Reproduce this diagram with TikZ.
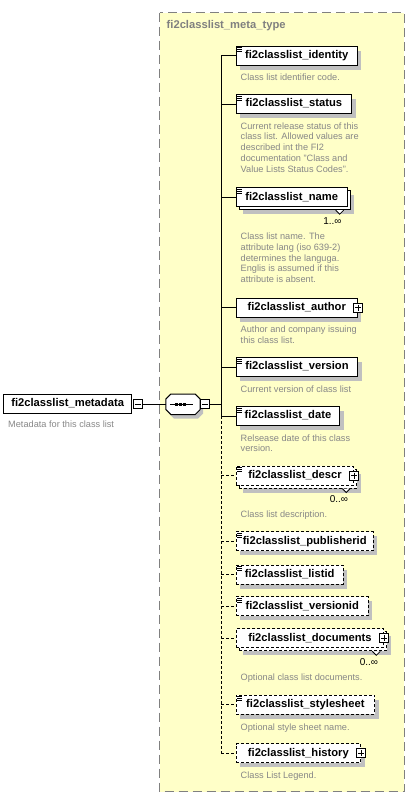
\documentclass[tikz,border=0pt]{standalone}
\usepackage{fontspec}
\setmainfont{Liberation Sans}
\usetikzlibrary{shadows}
\definecolor{yel}{RGB}{255,255,200}
\definecolor{shgray}{RGB}{192,192,192}
\definecolor{dscgray}{RGB}{135,135,135}
\definecolor{bord}{RGB}{128,128,128}
\newcommand\namefont{\fontsize{11.2}{13}\selectfont\bfseries}
\newcommand\titlefont{\fontsize{11.2}{13}\selectfont\bfseries}
\newcommand\descfont{\fontsize{9.2}{10.8}\selectfont}
\newcommand\cardfont{\fontsize{10}{12}\selectfont}
\newcommand\ico[1]{\draw[line width=0.7pt] ([shift={(1.5,2.2)}]#1.north west) -- ++(5,0) ([shift={(1.5,4.2)}]#1.north west) -- ++(5,0) ([shift={(1.5,6.2)}]#1.north west) -- ++(5,0);}
\newcommand\plusbox[2]{\node[pbox] (#2) at (#1.east) {};
  \draw ([xshift=2pt]#2.west) -- ([xshift=-2pt]#2.east) ([yshift=-2pt]#2.north) -- ([yshift=2pt]#2.south);}
\newcommand\notch[1]{\draw[fill=white, line width=0.8pt] ([xshift=-15pt]#1.south east) -- ++(4,4) -- ++(4,-4);}
\begin{document}
\begin{tikzpicture}[x=1pt,y=-1pt,
  elem/.style={draw=black, fill=white, line width=1pt, font=\namefont, minimum height=19pt,
     inner xsep=6pt, inner ysep=0pt, anchor=west, text height=8.4pt, text depth=2.5pt},
  shd/.style={drop shadow={shadow xshift=4pt, shadow yshift=-4.5pt, fill=shgray, draw=none, opacity=1}},
  opt/.style={dash pattern=on 3pt off 2pt},
  dsc/.style={font=\descfont, text=dscgray, align=left, anchor=north west, inner sep=0pt},
  card/.style={font=\cardfont, anchor=east, inner sep=0pt},
  pbox/.style={draw=black, fill=white, line width=1pt, minimum size=9pt, inner sep=0pt},
  conn/.style={line width=1pt}]
\useasboundingbox (0,0) rectangle (412,803);
% group background
\path[fill=yel, draw=bord, line width=1pt, dash pattern=on 9pt off 5pt] (159.5,12.5) rectangle (404,791.5);
\node[anchor=west, font=\titlefont, text=bord, inner sep=0pt] (title) at (166.5,26) {fi2classlist\_meta\_type};

% root element
\node[elem, minimum width=127.7pt, inner xsep=4pt] (meta) at (3.3,403.7) {fi2classlist\_metadata};
\node[pbox] (metam) at (138.3,404.3) {};
\draw ([xshift=2pt]metam.west) -- ([xshift=-2pt]metam.east);
\node[dsc] (metad) at (8,420.6) {Metadata for this class list};

% sequence compositor
\node[minimum width=34pt, minimum height=20pt, inner sep=0pt] (seq) at (183,404.3) {};
\fill[shgray] ([shift={(8,4)}]seq.north west) -- ([shift={(-2,4)}]seq.north east) -- ([shift={(3,9)}]seq.north east) -- ([shift={(3,-1)}]seq.south east) -- ([shift={(-2,4)}]seq.south east) -- ([shift={(8,4)}]seq.south west) -- ([shift={(3,-1)}]seq.south west) -- ([shift={(3,9)}]seq.north west) -- cycle;
\draw[fill=white, line width=1pt] ([shift={(5,0)}]seq.north west) -- ([shift={(-5,0)}]seq.north east) -- ([shift={(0,5)}]seq.north east) -- ([shift={(0,-5)}]seq.south east) -- ([shift={(-5,0)}]seq.south east) -- ([shift={(5,0)}]seq.south west) -- ([shift={(0,-5)}]seq.south west) -- ([shift={(0,5)}]seq.north west) -- cycle;
\draw[line width=1pt] ([xshift=4pt]seq.west) -- ([xshift=-7.3pt]seq.east);
\foreach \dx in {-6.3,-2.3,1.7} \fill ([shift={(\dx-1.5,-1.5)}]seq.center) rectangle ++(3,3);
\node[pbox] (seqm) at (205.3,404.3) {};
\draw ([xshift=2pt]seqm.west) -- ([xshift=-2pt]seqm.east);
\coordinate (sp) at (221,404.3);
\draw[conn] (metam.east) -- (seq.west);
\draw[conn] (seqm.east) -- (sp);

% mandatory elements
\node[elem, shd, minimum width=121pt] (identity) at (235.7,55.5) {fi2classlist\_identity};
\ico{identity}
\node[dsc] (identityd) at (240.5,73.9) {Class list identifier code.};

\node[elem, shd, minimum width=115.3pt] (status) at (235.7,104) {fi2classlist\_status};
\ico{status}
\node[dsc] (statusd) at (240.5,122.3) {Current release status of this\\class list. Allowed values are\\described int the FI2\\documentation "Class and\\Value Lists Status Codes".};

\node[elem, shd, minimum width=111pt] (nameb) at (238.7,200.2) {};
\node[elem, minimum width=111pt] (name) at (235.7,197.2) {fi2classlist\_name};
\ico{name}
\notch{nameb}
\node[card] (namec) at ([shift={(-9,10.7)}]nameb.south east) {1..∞};
\node[dsc] (named) at (240.5,232.6) {Class list name. The\\attribute lang (iso 639-2)\\determines the languga.\\Englis is assumed if this\\attribute is absent.};

\node[elem, shd, minimum width=121pt] (author) at (235.7,307.5) {fi2classlist\_author\hspace{6pt}};
\plusbox{author}{authorp}
\node[dsc] (authord) at (240.5,325.6) {Author and company issuing\\this class list.};

\node[elem, shd, minimum width=121.6pt] (version) at (235.7,367) {fi2classlist\_version};
\ico{version}
\node[dsc] (versiond) at (240.5,385.6) {Current version of class list};

\node[elem, shd, minimum width=103.6pt] (date) at (235.7,416) {fi2classlist\_date};
\ico{date}
\node[dsc] (dated) at (240.5,434.3) {Relsease date of this class\\version.};

% optional elements
\node[elem, opt, shd, minimum width=117.6pt] (descrb) at (238.7,478.5) {};
\node[elem, opt, minimum width=117.6pt] (descr) at (235.7,475.5) {fi2classlist\_descr\hspace{6pt}};
\ico{descr}
\plusbox{descr}{descrp}
\notch{descrb}
\node[card] (descrc) at ([shift={(-9,10.7)}]descrb.south east) {0..∞};
\node[dsc] (descrd) at (240.5,510.9) {Class list description.};

\node[elem, opt, shd, minimum width=137pt] (publisherid) at (235.7,541.3) {fi2classlist\_publisherid};
\ico{publisherid}

\node[elem, opt, shd, minimum width=107pt] (listid) at (235.7,574.5) {fi2classlist\_listid};
\ico{listid}

\node[elem, opt, shd, minimum width=132pt] (versionid) at (235.7,606.3) {fi2classlist\_versionid};
\ico{versionid}

\node[elem, opt, shd, minimum width=147.6pt] (documentsb) at (238.7,641.3) {};
\node[elem, opt, minimum width=147.6pt] (documents) at (235.7,638.3) {fi2classlist\_documents\hspace{6pt}};
\plusbox{documents}{documentsp}
\notch{documentsb}
\node[card] (documentsc) at ([shift={(-9,10.7)}]documentsb.south east) {0..∞};
\node[dsc] (documentsd) at (240.5,673.3) {Optional class list documents.};

\node[elem, opt, shd, minimum width=138.3pt] (stylesheet) at (235.7,704.5) {fi2classlist\_stylesheet};
\ico{stylesheet}
\node[dsc] (stylesheetd) at (240.5,723.3) {Optional style sheet name.};

\node[elem, opt, shd, minimum width=124.3pt] (history) at (235.7,753.3) {fi2classlist\_history\hspace{6pt}};
\plusbox{history}{historyp}
\node[dsc] (historyd) at (240.5,771.6) {Class List Legend.};

% spine and connectors
\draw[conn] (identity.west -| sp) -- (date.west -| sp);
\draw[conn, opt] (date.west -| sp) -- (history.west -| sp);
\foreach \n in {identity,status,name,author,version,date}
  \draw[conn] (\n.west -| sp) -- (\n.west);
\foreach \n in {descr,publisherid,listid,versionid,documents,stylesheet,history}
  \draw[conn, opt] (\n.west -| sp) -- (\n.west);
\end{tikzpicture}
\end{document}
